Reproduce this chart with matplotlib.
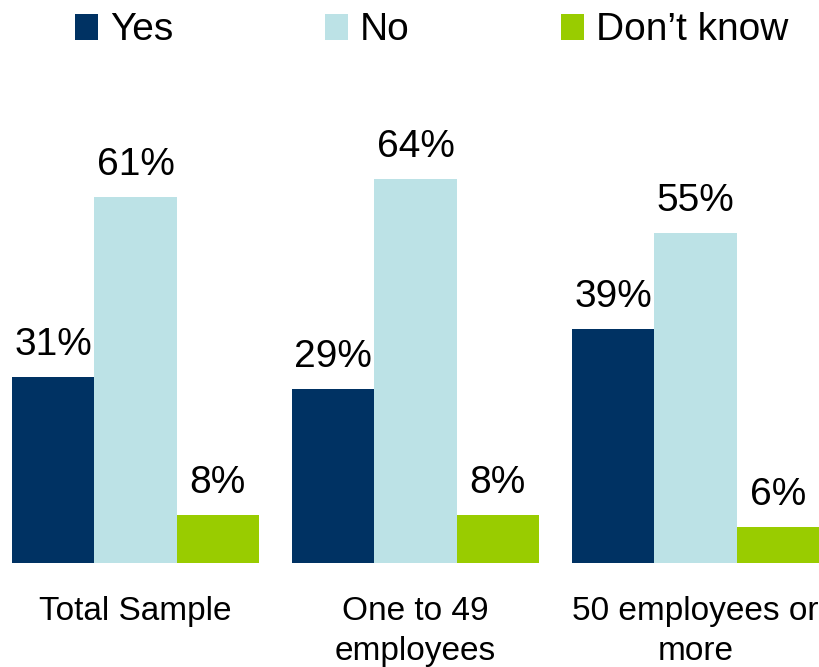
import numpy as np
import matplotlib
matplotlib.use('Agg')
import matplotlib.pyplot as plt

plt.rcParams['font.family'] = ['Liberation Sans', 'DejaVu Sans']

# survey answers by company size (%)
categories = ['Total Sample', 'One to 49\nemployees', '50 employees or\nmore']
series = ['Yes', 'No', 'Don\u2019t know']
yes = [31, 29, 39]
no = [61, 64, 55]
dont_know = [8, 8, 6]
colors = ['#003263', '#BCE2E6', '#99CC00']

fig = plt.figure(figsize=(8.19, 6.67), dpi=100)
ax = fig.add_axes([12 / 819, 1 - 563 / 667, 807 / 819, 420 / 667])

x = np.arange(len(categories))
width = 0.294
for i, (name, vals, color) in enumerate(zip(series, [yes, no, dont_know], colors)):
    pos = x + (i - 1) * width
    ax.bar(pos, vals, width=width, color=color, label=name, linewidth=0)
    for xp, v in zip(pos, vals):
        ax.annotate('%d%%' % v, (xp, v), xytext=(0, 10), textcoords='offset points',
                    ha='center', va='bottom', fontsize=28)

ax.set_xlim(-1.5 * width, len(categories) - 1 + 1.5 * width)
ax.set_ylim(0, 70)
ax.set_xticks(x)
ax.set_xticklabels(categories, fontsize=24, linespacing=1.35)
ax.tick_params(axis='x', length=0, pad=24)
ax.set_yticks([])
for s in ax.spines.values():
    s.set_visible(False)

fig.legend(loc='upper center', bbox_to_anchor=(0.527, 1.005), ncol=3, frameon=False,
           fontsize=28, handlelength=0.6, handleheight=0.65, handletextpad=0.3,
           columnspacing=3.9, borderaxespad=0.0)

fig.savefig('out.png', dpi=100)
